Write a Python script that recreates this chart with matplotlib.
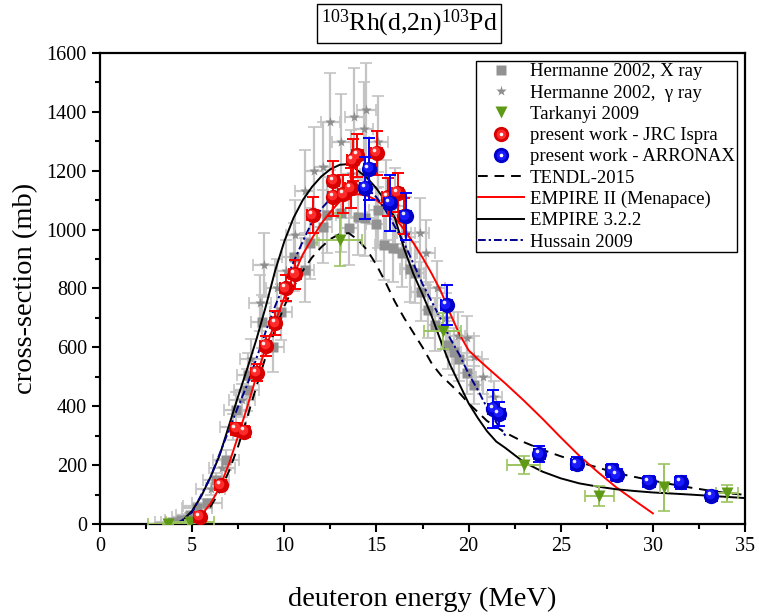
import matplotlib
matplotlib.use("Agg")
import matplotlib.pyplot as plt
from matplotlib.lines import Line2D
from matplotlib.legend_handler import HandlerTuple
from matplotlib.ticker import MultipleLocator
from matplotlib.transforms import offset_copy

plt.rcParams['font.family'] = ['Liberation Serif', 'DejaVu Serif']
plt.rcParams['mathtext.fontset'] = 'custom'
plt.rcParams['mathtext.rm'] = 'Liberation Serif'
plt.rcParams['mathtext.it'] = 'Liberation Serif:italic'

# ---------------- measured data ----------------
# Hermanne 2002, X ray
hx_E = [3.9, 4.4, 4.9, 5.25, 5.8, 6.3, 6.85, 7.4, 7.95, 8.05, 8.8, 9.4, 9.8, 10.5, 11.1, 11.4,
        12.1, 12.3, 13.1, 13.5, 14.0, 14.4, 14.95, 15.1, 15.4, 15.9, 16.4, 16.8, 17.1, 17.4,
        17.8, 18.2, 18.9, 19.2, 19.5, 19.9, 20.3]
hx_S = [5, 12, 30, 53, 70, 149, 217, 387, 455, 506, 687, 602, 720, 908, 863, 953,
        1010, 1050, 1055, 1004, 1044, 1039, 1018, 1066, 948, 936, 919, 865, 854, 789,
        727, 676, 608, 585, 560, 512, 472]
hx_dS = [3, 5, 8, 12, 15, 25, 35, 60, 70, 75, 90, 85, 95, 115, 110, 120,
         125, 130, 130, 125, 130, 130, 125, 130, 120, 115, 115, 110, 105, 100,
         95, 90, 80, 80, 75, 70, 65]
hx_dE = [0.9, 0.9, 0.8, 0.8, 0.8, 0.7, 0.7, 0.7, 0.7, 0.6, 0.6, 0.6, 0.6, 0.6, 0.5, 0.5,
         0.5, 0.5, 0.5, 0.5, 0.5, 0.5, 0.5, 0.5, 0.5, 0.5, 0.5, 0.5, 0.5, 0.5,
         0.4, 0.4, 0.4, 0.4, 0.4, 0.4, 0.4]

# Hermanne 2002, gamma ray
hg_E = [4.2, 4.7, 5.3, 6.0, 6.6, 7.2, 7.7, 8.2, 8.7, 8.9, 9.6, 10.1, 10.6, 11.1, 11.6, 12.1,
        12.5, 13.1, 13.6, 13.8, 14.3, 14.45, 15.1, 15.5, 16.0, 16.6, 17.35, 17.7, 18.3,
        18.8, 19.4, 19.9, 20.3, 20.8, 21.4]
hg_S = [8, 25, 60, 120, 190, 330, 420, 560, 750, 880, 800, 860, 980, 1130, 1200, 1214,
        1367, 1299, 1190, 1383, 1341, 1406, 1299, 1100, 1080, 990, 987, 922, 800,
        700, 640, 631, 568, 500, 430]
hg_dS = [4, 8, 12, 20, 30, 45, 55, 70, 95, 110, 100, 105, 120, 140, 150, 150,
         165, 160, 150, 165, 160, 160, 155, 135, 130, 120, 120, 110, 95,
         85, 80, 75, 70, 60, 55]
hg_dE = [0.9, 0.8, 0.8, 0.8, 0.7, 0.7, 0.7, 0.6, 0.6, 0.6, 0.6, 0.6, 0.5, 0.5, 0.5, 0.5,
         0.5, 0.5, 0.5, 0.5, 0.5, 0.5, 0.5, 0.5, 0.5, 0.5, 0.5, 0.5, 0.4,
         0.4, 0.4, 0.4, 0.4, 0.4, 0.4]

# Tarkanyi 2009
tk_E = [3.7, 4.9, 13.0, 18.6, 23.0, 27.1, 30.6, 34.0]
tk_S = [0, 8, 965, 655, 200, 95, 125, 104]
tk_dS = [3, 5, 90, 60, 30, 35, 80, 30]
tk_dE = [1.1, 1.3, 1.2, 1.0, 0.9, 0.8, 0.2, 0.6]

# present work - JRC Ispra
jrc_E = [5.4, 6.55, 7.38, 7.83, 8.5, 9.0, 9.51, 10.07, 10.58, 11.54, 12.66, 12.66,
         13.2, 13.6, 13.71, 13.96, 15.01, 15.61, 16.15, 16.5]
jrc_S = [25, 132, 323, 314, 514, 605, 682, 801, 848, 1049, 1166, 1112,
         1120, 1141, 1236, 1253, 1261, 1110, 1125, 1046]
jrc_dS = [5, 10, 20, 20, 30, 35, 40, 45, 50, 62, 68, 65,
          65, 67, 72, 73, 74, 65, 66, 61]
jrc_dE = [0.3, 0.3, 0.3, 0.3, 0.3, 0.3, 0.3, 0.3, 0.3, 0.3, 0.3, 0.3,
          0.3, 0.3, 0.3, 0.3, 0.3, 0.3, 0.3, 0.3]

# present work - ARRONAX
arx_E = [14.4, 14.61, 15.73, 16.59, 18.81, 21.34, 21.65, 23.84, 25.88, 27.78, 28.03,
         29.79, 31.51, 33.17]
arx_S = [1142, 1207, 1091, 1046, 744, 391, 374, 238, 204, 183, 166, 144, 142, 96]
arx_dS = [105, 105, 95, 80, 68, 65, 40, 28, 22, 22, 20, 18, 22, 15]
arx_dE = [0.3, 0.3, 0.3, 0.3, 0.3, 0.3, 0.3, 0.3, 0.3, 0.3, 0.3, 0.3, 0.3, 0.3]

# ---------------- model calculations ----------------
tendl_E = [4.5, 5, 5.5, 6, 6.5, 7, 7.5, 8, 8.5, 9, 9.5, 10, 10.5, 11, 11.5, 12, 12.5, 13,
           13.5, 14, 14.5, 15, 15.5, 16, 16.5, 17, 17.5, 18, 18.5, 19, 19.5, 20, 21, 22,
           23, 24, 25, 26, 27, 28, 29, 30, 31, 32, 33, 34, 35]
tendl_S = [0, 5, 25, 60, 110, 180, 265, 365, 470, 570, 660, 740, 805, 860, 905, 940, 968, 985,
           988, 965, 930, 880, 820, 755, 700, 650, 600, 545, 505, 475, 445, 410, 350, 310,
           278, 252, 230, 210, 192, 173, 160, 147, 135, 124, 114, 105, 99]

emp2_E = [4.7, 5, 5.5, 6, 6.5, 7, 7.5, 8, 8.5, 9, 9.5, 10, 10.5, 11, 11.5, 12, 12.5, 13,
          13.5, 14, 14.5, 15, 15.5, 16, 16.5, 17, 17.5, 18, 18.5, 19, 19.5, 20, 20.5, 21,
          22, 23, 24, 25, 26, 27, 28, 29, 30]
emp2_S = [0, 8, 30, 70, 125, 205, 300, 400, 505, 600, 685, 770, 845, 915, 970, 1020, 1060, 1095,
          1115, 1120, 1115, 1100, 1075, 1040, 1000, 955, 905, 850, 790, 715, 645, 590, 560, 532,
          477, 419, 358, 294, 232, 177, 125, 80, 36]

emp3_E = [4.0, 4.5, 5, 5.5, 6, 6.5, 7, 7.5, 8, 8.5, 9, 9.5, 10, 10.5, 11, 11.5, 12, 12.5, 13,
          13.35, 13.7, 14, 14.5, 15, 15.5, 16, 16.5, 17, 17.5, 18, 18.5, 19, 19.5, 20, 20.5,
          21, 21.5, 22, 23, 24, 25, 26, 27, 28, 29, 30, 32, 35]
emp3_S = [0, 12, 45, 95, 160, 235, 335, 435, 530, 630, 740, 860, 960, 1040, 1100, 1145, 1180,
          1205, 1220, 1222, 1215, 1200, 1175, 1140, 1095, 1040, 935, 850, 780, 705, 620, 540,
          475, 410, 360, 315, 280, 258, 210, 178, 155, 138, 127, 118, 112, 107, 100, 88]

huss_E = [4.2, 5, 6, 7, 7.5, 8, 8.5, 9, 9.5, 10, 10.5, 11, 11.5, 12, 12.5, 13, 13.5, 14, 14.5,
          15, 15.5, 16, 16.5, 17, 17.5, 18, 18.5, 19, 19.5, 20, 20.5, 21, 21.5, 22]
huss_S = [0, 40, 160, 320, 400, 475, 565, 655, 740, 815, 890, 960, 1025, 1070, 1105, 1130, 1145,
          1150, 1140, 1110, 1065, 1010, 955, 885, 815, 755, 695, 630, 575, 510, 455, 395, 345, 300]

xticks = [0, 5, 10, 15, 20, 25, 30, 35]
yticks = [0, 200, 400, 600, 800, 1000, 1200, 1400, 1600]

# ---------------- figure ----------------
fig = plt.figure(figsize=(7.59, 6.16), dpi=100)
ax = fig.add_axes([0.1318, 0.1494, 0.8498, 0.7646])

gray_err = '#c4c4c4'
ax.errorbar(hx_E, hx_S, xerr=hx_dE, yerr=hx_dS, fmt='none', ecolor=gray_err,
            elinewidth=1.6, capsize=4, capthick=1.2, zorder=1)
ax.errorbar(hg_E, hg_S, xerr=hg_dE, yerr=hg_dS, fmt='none', ecolor=gray_err,
            elinewidth=1.6, capsize=4, capthick=1.2, zorder=1)
ax.plot(hx_E, hx_S, 's', color='#929292', ms=6.5, mec='none', zorder=2)
ax.plot(hg_E, hg_S, '*', color='#8e8e8e', ms=8, mec='none', zorder=2)

ax.plot(tendl_E, tendl_S, color='black', lw=1.4, dashes=(5, 3.5), zorder=3)
ax.plot(emp2_E, emp2_S, color='#ff0000', lw=1.4, zorder=3)
ax.plot(emp3_E, emp3_S, color='black', lw=1.4, zorder=3)
ax.plot(huss_E, huss_S, color='#00008b', lw=1.4, dashes=(4, 1.5, 1.2, 1.5), zorder=3)

ax.errorbar(tk_E, tk_S, xerr=tk_dE, yerr=tk_dS, fmt='none', ecolor='#9cc460',
            elinewidth=1.4, capsize=4, capthick=1.2, zorder=4)
ax.plot(tk_E, tk_S, 'v', color='#5f9a16', ms=9, mec='none', zorder=5)


def spheres(E, S, dE, dS, base, mid, ecol, z):
    ax.errorbar(E, S, xerr=dE, yerr=dS, fmt='none', ecolor=ecol,
                elinewidth=1.4, capsize=4, capthick=1.4, zorder=z)
    ax.plot(E, S, 'o', color=base, ms=11, mec='none', zorder=z + 1)
    t1 = offset_copy(ax.transData, fig=fig, x=-1.0, y=1.0, units='points')
    ax.plot(E, S, 'o', color=mid, ms=7, mec='none', zorder=z + 2, transform=t1)
    t2 = offset_copy(ax.transData, fig=fig, x=-2.0, y=2.2, units='points')
    ax.plot(E, S, 'o', color='white', ms=2.6, mec='none', alpha=0.9, zorder=z + 3, transform=t2)


spheres(jrc_E, jrc_S, jrc_dE, jrc_dS, '#d80000', '#ff2a2a', '#ff0000', 6)
spheres(arx_E, arx_S, arx_dE, arx_dS, '#0000c8', '#1a1aff', '#0000ff', 10)

ax.set_xlim(0, 35)
ax.set_ylim(0, 1600)
ax.set_xticks(xticks)
ax.set_yticks(yticks)
ax.xaxis.set_minor_locator(MultipleLocator(2.5))
ax.yaxis.set_minor_locator(MultipleLocator(100))
ax.tick_params(which='major', direction='out', length=6, width=1.5, labelsize=14.5,
               top=False, right=False)
ax.tick_params(which='minor', direction='out', length=3.5, width=1.5,
               top=False, right=False)
for sp in ax.spines.values():
    sp.set_linewidth(1.6)

ax.set_xlabel('deuteron energy (MeV)', fontsize=20.5, labelpad=22)
ax.set_ylabel('cross-section (mb)', fontsize=20.5, labelpad=6)

fig.text(0.539, 0.962, r'$^{103}$Rh(d,2n)$^{103}$Pd', fontsize=18.5, ha='center', va='center',
         bbox=dict(boxstyle='square,pad=0.15', fc='white', ec='black', lw=1.0))


def sphere_handle(base, mid):
    return (Line2D([], [], ls='none', marker='o', color=base, ms=11, mec='none'),
            Line2D([], [], ls='none', marker='o', color=mid, ms=7, mec='none'),
            Line2D([], [], ls='none', marker='o', color='white', ms=2.6, mec='none'))


handles = [
    Line2D([], [], ls='none', marker='s', color='#929292', ms=6.5, mec='none'),
    Line2D([], [], ls='none', marker='*', color='#8e8e8e', ms=8, mec='none'),
    Line2D([], [], ls='none', marker='v', color='#5f9a16', ms=9, mec='none'),
    sphere_handle('#d80000', '#ff2a2a'),
    sphere_handle('#0000c8', '#1a1aff'),
    Line2D([], [], color='black', lw=1.4, dashes=(5, 3.5)),
    Line2D([], [], color='#ff0000', lw=1.4),
    Line2D([], [], color='black', lw=1.4),
    Line2D([], [], color='#00008b', lw=1.4, dashes=(4, 1.5, 1.2, 1.5)),
]
labels = ['Hermanne 2002, X ray', 'Hermanne 2002,  \u03b3 ray', 'Tarkanyi 2009',
          'present work - JRC Ispra', 'present work - ARRONAX', 'TENDL-2015',
          'EMPIRE II (Menapace)', 'EMPIRE 3.2.2', 'Hussain 2009']
leg = ax.legend(handles, labels, loc='upper right', fontsize=13.5, frameon=True,
                fancybox=False, edgecolor='black', framealpha=1, borderpad=0.1,
                labelspacing=0.22, handlelength=2.45, handletextpad=0.3,
                borderaxespad=0.45, handler_map={tuple: HandlerTuple(ndivide=1, pad=0)})
leg.get_frame().set_linewidth(1.0)

fig.savefig('out.png', dpi=100)
